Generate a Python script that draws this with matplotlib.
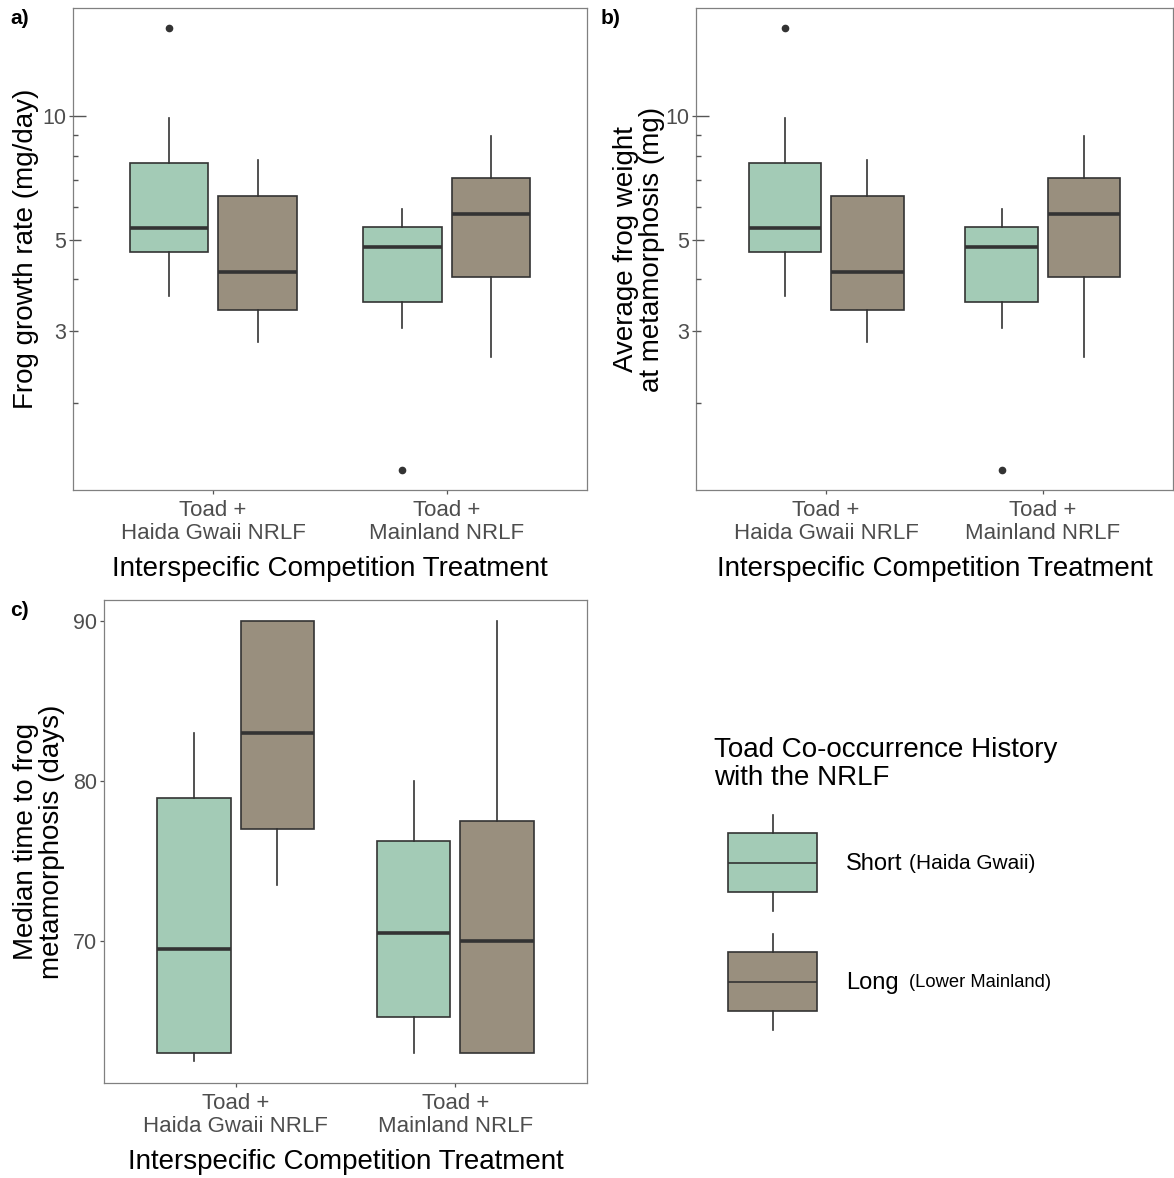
import matplotlib
matplotlib.use("Agg")
import matplotlib.pyplot as plt
from matplotlib.patches import Rectangle
from matplotlib.ticker import FixedLocator, FixedFormatter, NullLocator

plt.rcParams["font.family"] = ["Liberation Sans", "DejaVu Sans"]

# ---------------- data ----------------
treatments = ["Toad +\nHaida Gwaii NRLF", "Toad +\nMainland NRLF"]
histories = ["Short", "Long"]
history_notes = ["(Haida Gwaii)", "(Lower Mainland)"]
fill_colors = ["#a3cbb6", "#998f7e"]

# order of boxes: Haida-Short, Haida-Long, Mainland-Short, Mainland-Long
growth_lo = [3.65, 2.81, 3.05, 2.59]
growth_q1 = [4.68, 3.37, 3.52, 4.05]
growth_med = [5.35, 4.17, 4.79, 5.78]
growth_q3 = [7.68, 6.40, 5.36, 7.06]
growth_hi = [9.90, 7.84, 5.94, 8.94]
growth_out = [[16.4], [], [1.37], []]

weight_lo = [3.65, 2.81, 3.05, 2.59]
weight_q1 = [4.68, 3.37, 3.52, 4.05]
weight_med = [5.35, 4.17, 4.79, 5.78]
weight_q3 = [7.68, 6.40, 5.36, 7.06]
weight_hi = [9.90, 7.84, 5.94, 8.94]
weight_out = [[16.4], [], [1.37], []]

days_lo = [62.5, 73.5, 63.0, 63.0]
days_q1 = [63.0, 77.0, 65.25, 63.0]
days_med = [69.5, 83.0, 70.5, 70.0]
days_q3 = [78.9, 90.0, 76.25, 77.5]
days_hi = [83.0, 90.0, 80.0, 90.0]
days_out = [[], [], [], []]

log_major = [3, 5, 10]
day_ticks = [70, 80, 90]

# ---------------- style ----------------
W, H = 1174, 1178
DPI = 100
EDGE = "#333333"
FRAME = "#808080"
TICKC = "#555555"
TICKLAB = "#4d4d4d"
DODGE = 0.19
BOXW = 0.335

fig = plt.figure(figsize=(W / DPI, H / DPI), dpi=DPI)


def px_axes(left, top, right, bottom):
    return fig.add_axes([left / W, 1 - bottom / H, (right - left) / W, (bottom - top) / H])


def draw_boxes(ax, lo, q1, med, q3, hi, out):
    stats, positions, colors = [], [], []
    k = 0
    for gi in range(len(treatments)):
        for hi_idx in range(len(histories)):
            stats.append(dict(whislo=lo[k], q1=q1[k], med=med[k], q3=q3[k],
                              whishi=hi[k], fliers=out[k]))
            positions.append(gi + 1 + (DODGE if hi_idx else -DODGE))
            colors.append(fill_colors[hi_idx])
            k += 1
    bp = ax.bxp(stats, positions=positions, widths=BOXW, patch_artist=True,
                showcaps=False, manage_ticks=False,
                boxprops=dict(edgecolor=EDGE, linewidth=1.2),
                whiskerprops=dict(color=EDGE, linewidth=1.2),
                medianprops=dict(color=EDGE, linewidth=2.6, solid_capstyle="butt"),
                flierprops=dict(marker="o", markersize=4.5, markerfacecolor=EDGE,
                                markeredgecolor=EDGE, linestyle="none"))
    for patch, c in zip(bp["boxes"], colors):
        patch.set_facecolor(c)


def style_axes(ax, xlabel, ylabel, ylabelpad):
    for s in ax.spines.values():
        s.set_color(FRAME)
        s.set_linewidth(0.9)
    ax.set_xlim(0.4, 2.6)
    ax.set_xticks([1, 2])
    ax.set_xticklabels(treatments, fontsize=16, color=TICKLAB, linespacing=1.12)
    ax.tick_params(axis="both", which="major", direction="out", length=3,
                   width=0.9, color=TICKC, pad=2)
    ax.tick_params(axis="x", pad=4)
    ax.tick_params(axis="y", labelsize=15.5, labelcolor=TICKLAB)
    ax.set_xlabel(xlabel, fontsize=20, labelpad=9)
    ax.set_ylabel(ylabel, fontsize=20, labelpad=ylabelpad, linespacing=1.0)


def log_axis(ax):
    ax.set_yscale("log")
    ax.set_ylim(1.225, 18.4)
    ax.yaxis.set_major_locator(FixedLocator(log_major))
    ax.yaxis.set_major_formatter(FixedFormatter([str(v) for v in log_major]))
    ax.yaxis.set_minor_locator(NullLocator())
    # inner log tick marks along the left edge
    tr = ax.get_yaxis_transform()
    wpx = ax.get_position().width * W
    for v in range(2, 11):
        L = 13 if v == 10 else (8 if v == 5 else 4.5)
        ax.plot([0, L / wpx], [v, v], transform=tr, color=TICKC, lw=1.0,
                solid_capstyle="butt", clip_on=False, zorder=3)


xlab = "Interspecific Competition Treatment"

# panel a
axa = px_axes(73, 8, 587, 490)
draw_boxes(axa, growth_lo, growth_q1, growth_med, growth_q3, growth_hi, growth_out)
log_axis(axa)
style_axes(axa, xlab, "Frog growth rate (mg/day)", 2)

# panel b
axb = px_axes(696, 8, 1173, 490)
draw_boxes(axb, weight_lo, weight_q1, weight_med, weight_q3, weight_hi, weight_out)
log_axis(axb)
style_axes(axb, xlab, "Average frog weight\nat metamorphosis (mg)", 0)

# panel c
axc = px_axes(104, 600, 587, 1083)
draw_boxes(axc, days_lo, days_q1, days_med, days_q3, days_hi, days_out)
axc.set_ylim(61.1, 91.3)
axc.set_yticks(day_ticks)
style_axes(axc, xlab, "Median time to frog\nmetamorphosis (days)", 6)

# panel tags
for tag, x, y in [("a)", 10, 18), ("b)", 601, 18), ("c)", 10, 610)]:
    fig.text(x / W, 1 - y / H, tag, fontsize=15, fontweight="bold", va="center", ha="left")

# ---------------- legend ----------------
fig.text(714 / W, 1 - 764 / H, "Toad Co-occurrence History\nwith the NRLF",
         fontsize=20, va="center", ha="left", linespacing=1.12)

lax = fig.add_axes([0, 0, 1, 1], zorder=-1)
lax.set_xlim(0, W)
lax.set_ylim(H, 0)
lax.axis("off")

key_rows = [(815, 833, 892, 911), (934, 952, 1011, 1030)]
for (wt, bt, bb, wb), col, name, note in zip(key_rows, fill_colors, histories, history_notes):
    cx = (728 + 817) / 2
    lax.add_patch(Rectangle((728, bt), 817 - 728, bb - bt, facecolor=col,
                            edgecolor=EDGE, linewidth=1.2))
    lax.plot([728, 817], [(bt + bb) / 2] * 2, color=EDGE, lw=1.2, solid_capstyle="butt")
    lax.plot([cx, cx], [wt, bt], color=EDGE, lw=1.2)
    lax.plot([cx, cx], [bb, wb], color=EDGE, lw=1.2)
    yc = 1 - ((bt + bb) / 2 + 1) / H
    fig.text(846 / W, yc, name, fontsize=17, va="center", ha="left")
    fig.text(909 / W, yc, note, fontsize=15 if name == "Short" else 13.2,
             va="center", ha="left")

fig.savefig("out.png", dpi=DPI)
